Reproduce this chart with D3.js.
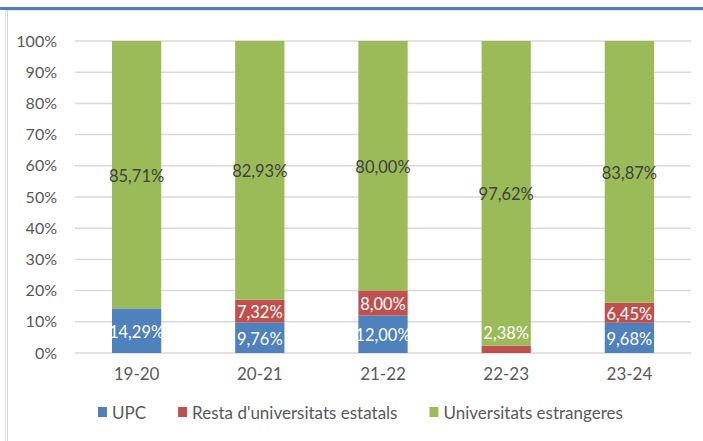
<!DOCTYPE html>
<html>
<head>
<meta charset="utf-8">
<script src="https://cdn.jsdelivr.net/npm/d3@7"></script>
<style>
  body { margin: 0; background: #fff; }
  svg { display: block; font-family: Lato, 'Liberation Sans', sans-serif; }
  .tick line { display: none; }
  .domain { display: none; }
  .grid line { stroke: #d9d9d9; stroke-width: 1.5; }
</style>
</head>
<body>
<div id="chart"></div>
<script>
const years = ['19-20', '20-21', '21-22', '22-23', '23-24'];
const upc = [14.29, 9.76, 12.00, 0, 9.68];
const resta = [0, 7.32, 8.00, 2.38, 6.45];
const estrangeres = [85.71, 82.93, 80.00, 97.62, 83.87];
const yTicks = [0, 10, 20, 30, 40, 50, 60, 70, 80, 90, 100];

const seriesNames = ['UPC', "Resta d'universitats estatals", 'Universitats estrangeres'];
const colors = ['#4f81bd', '#c0504d', '#9bbb59'];
const labelColors = ['#ffffff', '#ffffff', '#404040'];

const width = 703;
const height = 441;
const plot = { left: 75, right: 691, top: 41, bottom: 353 };

const fmt = v => v.toFixed(2).replace('.', ',') + '%';

const rows = years.map((y, i) => ({
  year: y,
  UPC: upc[i],
  "Resta d'universitats estatals": resta[i],
  'Universitats estrangeres': estrangeres[i]
}));

const stack = d3.stack().keys(seriesNames);
const stacked = stack(rows);

const svg = d3.select('#chart')
  .append('svg')
  .attr('width', width)
  .attr('height', height);

// frame lines like the cropped Excel chart
svg.append('line')
  .attr('x1', 0).attr('x2', width)
  .attr('y1', 8.5).attr('y2', 8.5)
  .attr('stroke', '#4f81bd').attr('stroke-width', 3);
svg.append('line')
  .attr('x1', 5).attr('x2', width)
  .attr('y1', 10.5).attr('y2', 10.5)
  .attr('stroke', '#e3e3e3').attr('stroke-width', 1);
svg.append('line')
  .attr('x1', 5.5).attr('x2', 5.5)
  .attr('y1', 10).attr('y2', height)
  .attr('stroke', '#e3e3e3').attr('stroke-width', 1);
svg.append('line')
  .attr('x1', 7.5).attr('x2', 7.5)
  .attr('y1', 10).attr('y2', height)
  .attr('stroke', '#d6d6d6').attr('stroke-width', 1);

const x = d3.scaleBand()
  .domain(years)
  .range([plot.left, plot.right])
  .paddingInner(0.6)
  .paddingOuter(0.3);

const y = d3.scaleLinear()
  .domain([0, 100])
  .range([plot.bottom, plot.top]);

// gridlines
svg.append('g')
  .attr('class', 'grid')
  .selectAll('line')
  .data(yTicks)
  .enter().append('line')
  .attr('x1', plot.left)
  .attr('x2', plot.right)
  .attr('y1', d => y(d))
  .attr('y2', d => y(d));

// y axis
svg.append('g')
  .attr('transform', `translate(${plot.left},0)`)
  .call(d3.axisLeft(y).tickValues(yTicks).tickFormat(d => d + '%').tickSize(0).tickPadding(18))
  .call(g => g.selectAll('text')
    .style('font-size', '16px')
    .style('font-family', "Lato, 'Liberation Sans', sans-serif")
    .attr('fill', '#595959'));

// x axis
svg.append('g')
  .attr('transform', `translate(0,${plot.bottom})`)
  .call(d3.axisBottom(x).tickSize(0).tickPadding(15))
  .call(g => g.selectAll('text')
    .style('font-size', '17px')
    .style('font-family', "Lato, 'Liberation Sans', sans-serif")
    .attr('fill', '#595959'));

// bars
const layers = svg.selectAll('.layer')
  .data(stacked)
  .enter().append('g')
  .attr('class', 'layer')
  .attr('fill', (d, i) => colors[i]);

layers.selectAll('rect')
  .data(d => d)
  .enter().append('rect')
  .attr('x', d => x(d.data.year))
  .attr('width', x.bandwidth())
  .attr('y', d => y(d[1]))
  .attr('height', d => y(d[0]) - y(d[1]));

// data labels
stacked.forEach((layer, li) => {
  svg.append('g')
    .selectAll('text')
    .data(layer.filter(d => d[1] - d[0] > 0))
    .enter().append('text')
    .attr('x', d => x(d.data.year) + x.bandwidth() / 2)
    .attr('y', d => {
      const h = y(d[0]) - y(d[1]);
      const c = (y(d[0]) + y(d[1])) / 2;
      return h < 15 ? y(d[0]) - 20 : c + 1;
    })
    .attr('text-anchor', 'middle')
    .attr('dominant-baseline', 'central')
    .attr('fill', labelColors[li])
    .style('font-size', '16.5px')
    .text(d => fmt(d[1] - d[0]));
});

// legend
const legend = svg.append('g').attr('transform', 'translate(98,412)');
let lx = 0;
seriesNames.forEach((name, i) => {
  const item = legend.append('g').attr('transform', `translate(${lx},0)`);
  item.append('rect')
    .attr('x', 0).attr('y', -5)
    .attr('width', 9).attr('height', 10)
    .attr('fill', colors[i]);
  const t = item.append('text')
    .attr('x', 14)
    .attr('dominant-baseline', 'central')
    .attr('fill', '#595959')
    .style('font-size', '17px')
    .text(name);
  lx += 14 + t.node().getComputedTextLength() + 32;
});
</script>
</body>
</html>
